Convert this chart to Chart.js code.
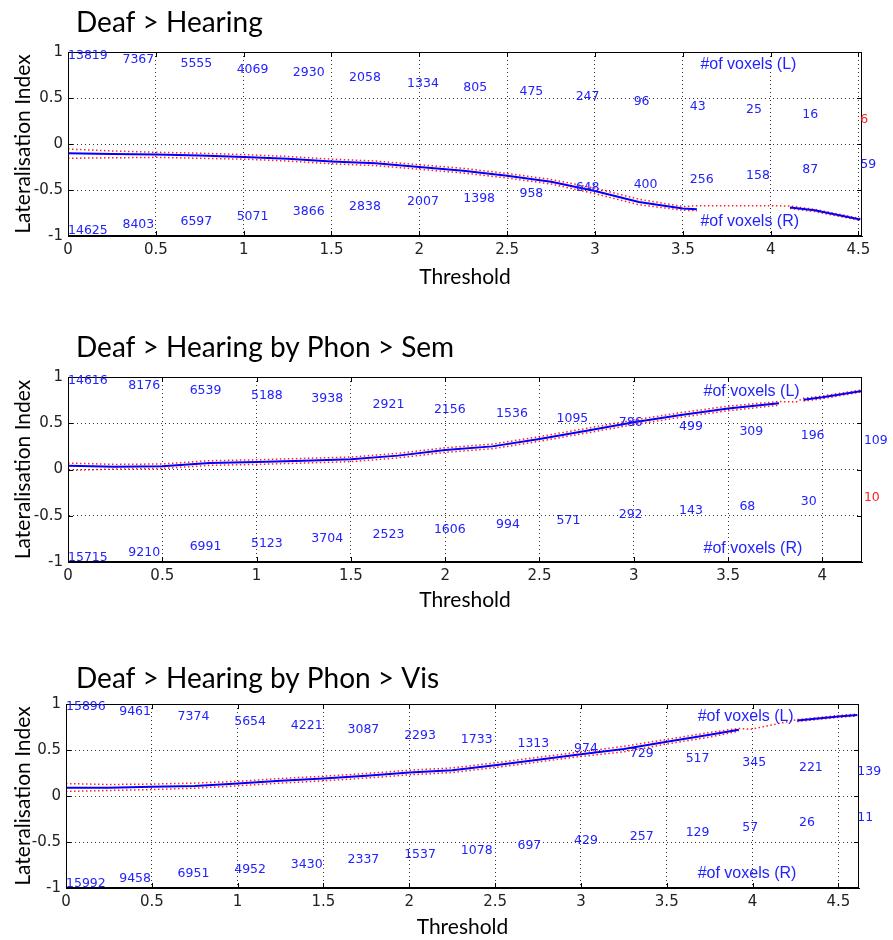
<!DOCTYPE html>
<html>
<head>
<meta charset="utf-8">
<script src="https://cdn.jsdelivr.net/npm/chart.js@4.4.1/dist/chart.umd.min.js"></script>
<style>
  body { margin: 0; background: #fff; }
  #wrap { position: relative; width: 893px; height: 940px; }
  canvas { position: absolute; left: 0; }
</style>
</head>
<body>
<div id="wrap">
  <canvas id="panel1" width="893" height="300" style="top:0px"></canvas>
  <canvas id="panel2" width="893" height="305" style="top:320px"></canvas>
  <canvas id="panel3" width="893" height="290" style="top:650px"></canvas>
</div>
<script>
// ---- Deaf > Hearing ----
var thr1   = [0, 0.25, 0.5, 0.75, 1.0, 1.25, 1.5, 1.75, 2.0, 2.25, 2.5, 2.75, 3.0, 3.25, 3.5, 3.58, 3.8, 4.0, 4.11, 4.25, 4.51];
var li1    = [-0.10, -0.11, -0.115, -0.125, -0.14, -0.16, -0.19, -0.21, -0.25, -0.29, -0.345, -0.41, -0.51, -0.63, -0.70, -0.71, null, null, -0.69, -0.72, -0.82];
var hi1    = [-0.055, -0.075, -0.09, -0.10, -0.115, -0.135, -0.165, -0.185, -0.225, -0.265, -0.32, -0.385, -0.48, -0.60, -0.68, -0.67, -0.67, -0.67, -0.675, -0.71, -0.81];
var lo1    = [-0.155, -0.15, -0.145, -0.155, -0.165, -0.185, -0.215, -0.235, -0.275, -0.315, -0.37, -0.435, -0.54, -0.66, -0.72, -0.725, null, null, -0.70, -0.735, -0.83];
var lblX1  = [0, 0.31, 0.64, 0.96, 1.28, 1.60, 1.93, 2.25, 2.57, 2.89, 3.22, 3.54, 3.86, 4.18, 4.51];
var voxL1  = [13819, 7367, 5555, 4069, 2930, 2058, 1334, 805, 475, 247, 96, 43, 25, 16, 6];
var voxLy1 = [0.96, 0.92, 0.87, 0.81, 0.77, 0.72, 0.66, 0.61, 0.57, 0.51, 0.46, 0.41, 0.37, 0.32, 0.26];
var voxR1  = [14625, 8403, 6597, 5071, 3866, 2838, 2007, 1398, 958, 648, 400, 256, 158, 87, 59];
var voxRy1 = [-0.94, -0.88, -0.84, -0.79, -0.74, -0.68, -0.63, -0.59, -0.54, -0.48, -0.44, -0.39, -0.34, -0.28, -0.23];

// ---- Deaf > Hearing by Phon > Sem ----
var thr2   = [0, 0.25, 0.5, 0.75, 1.0, 1.25, 1.5, 1.75, 2.0, 2.25, 2.5, 2.75, 3.0, 3.25, 3.5, 3.77, 3.86, 3.90, 4.0, 4.21];
var li2    = [0.04, 0.03, 0.035, 0.07, 0.08, 0.095, 0.11, 0.15, 0.21, 0.25, 0.33, 0.42, 0.51, 0.59, 0.66, 0.715, null, 0.755, 0.78, 0.85];
var hi2    = [0.07, 0.055, 0.06, 0.095, 0.105, 0.12, 0.135, 0.175, 0.235, 0.275, 0.355, 0.445, 0.535, 0.615, 0.685, 0.735, 0.73, 0.77, 0.795, 0.86];
var lo2    = [-0.01, 0.005, 0.01, 0.045, 0.055, 0.07, 0.085, 0.125, 0.185, 0.225, 0.305, 0.395, 0.485, 0.565, 0.635, 0.695, null, 0.74, 0.765, 0.84];
var lblX2  = [0, 0.32, 0.645, 0.97, 1.29, 1.615, 1.94, 2.27, 2.59, 2.92, 3.24, 3.56, 3.885, 4.22];
var voxL2  = [14616, 8176, 6539, 5188, 3938, 2921, 2156, 1536, 1095, 786, 499, 309, 196, 109];
var voxLy2 = [0.96, 0.91, 0.856, 0.80, 0.76, 0.70, 0.65, 0.60, 0.55, 0.51, 0.46, 0.41, 0.36, 0.31];
var voxR2  = [15715, 9210, 6991, 5123, 3704, 2523, 1606, 994, 571, 292, 143, 68, 30, 10];
var voxRy2 = [-0.95, -0.90, -0.84, -0.80, -0.75, -0.70, -0.65, -0.60, -0.55, -0.49, -0.45, -0.40, -0.35, -0.30];

// ---- Deaf > Hearing by Phon > Vis ----
var thr3   = [0, 0.25, 0.5, 0.75, 1.0, 1.25, 1.5, 1.75, 2.0, 2.25, 2.5, 2.75, 3.0, 3.25, 3.5, 3.75, 3.92, 3.99, 4.26, 4.5, 4.61];
var li3    = [0.09, 0.09, 0.10, 0.11, 0.135, 0.165, 0.19, 0.22, 0.255, 0.28, 0.335, 0.395, 0.455, 0.51, 0.59, 0.665, 0.72, null, 0.82, 0.865, 0.88];
var hi3    = [0.135, 0.125, 0.13, 0.14, 0.16, 0.19, 0.215, 0.245, 0.28, 0.305, 0.36, 0.42, 0.48, 0.54, 0.615, 0.69, 0.735, 0.725, 0.83, 0.875, 0.89];
var lo3    = [0.05, 0.06, 0.07, 0.085, 0.11, 0.14, 0.165, 0.195, 0.23, 0.255, 0.31, 0.37, 0.43, 0.48, 0.565, 0.64, 0.705, null, 0.81, 0.855, 0.87];
var lblX3  = [0, 0.31, 0.65, 0.98, 1.31, 1.64, 1.97, 2.30, 2.63, 2.96, 3.285, 3.61, 3.94, 4.27, 4.61];
var voxL3  = [15896, 9461, 7374, 5654, 4221, 3087, 2293, 1733, 1313, 974, 729, 517, 345, 221, 139];
var voxLy3 = [0.97, 0.916, 0.86, 0.81, 0.76, 0.716, 0.66, 0.61, 0.565, 0.51, 0.46, 0.41, 0.365, 0.31, 0.26];
var voxR3  = [15992, 9458, 6951, 4952, 3430, 2337, 1537, 1078, 697, 429, 257, 129, 57, 26, 11];
var voxRy3 = [-0.95, -0.90, -0.84, -0.80, -0.75, -0.69, -0.64, -0.60, -0.54, -0.49, -0.44, -0.40, -0.34, -0.29, -0.24];

var BLUE = '#0000ff';
var TXTBLUE = '#2222ff';
var RED = '#ff2020';

function toPoints(xs, ys) {
    return xs.map(function (x, i) { return { x: x, y: ys[i] }; });
}

// draws box, inward ticks, voxel counts and the panel heading
function makeDecor(p) {
    return {
        id: 'decor',
        afterDatasetsDraw: function (chart) {
            var ctx = chart.ctx;
            var a = chart.chartArea;
            var xs = chart.scales.x, ys = chart.scales.y;
            ctx.save();

            ctx.strokeStyle = '#000';
            ctx.lineWidth = 1;
            ctx.strokeRect(Math.round(a.left) + 0.5, Math.round(a.top) + 0.5,
                Math.round(a.right - a.left) - 1, Math.round(a.bottom - a.top) - 1);
            ctx.beginPath();
            xs.ticks.forEach(function (t) {
                var px = Math.round(xs.getPixelForValue(t.value)) + 0.5;
                ctx.moveTo(px, a.top); ctx.lineTo(px, a.top + 5);
                ctx.moveTo(px, a.bottom); ctx.lineTo(px, a.bottom - 5);
            });
            ys.ticks.forEach(function (t) {
                var py = Math.round(ys.getPixelForValue(t.value)) + 0.5;
                ctx.moveTo(a.left, py); ctx.lineTo(a.left + 5, py);
                ctx.moveTo(a.right, py); ctx.lineTo(a.right - 5, py);
            });
            ctx.stroke();

            ctx.textAlign = 'left';
            ctx.textBaseline = 'middle';
            ctx.font = '12.5px "DejaVu Sans"';
            var last = p.lblX.length - 1;
            p.lblX.forEach(function (x, i) {
                var px = xs.getPixelForValue(x);
                ctx.fillStyle = (p.redTop && i === last) ? RED : TXTBLUE;
                ctx.fillText(String(p.voxL[i]), px, ys.getPixelForValue(p.voxLy[i]));
                ctx.fillStyle = (p.redBottom && i === last) ? RED : TXTBLUE;
                ctx.fillText(String(p.voxR[i]), px, ys.getPixelForValue(p.voxRy[i]));
            });

            ctx.font = '16px "Liberation Sans"';
            ctx.fillStyle = TXTBLUE;
            ctx.fillText('#of voxels (L)', xs.getPixelForValue(p.capX), ys.getPixelForValue(p.capYL));
            ctx.fillText('#of voxels (R)', xs.getPixelForValue(p.capX), ys.getPixelForValue(p.capYR));

            ctx.font = '28px Lato';
            ctx.fillStyle = '#000';
            ctx.textBaseline = 'alphabetic';
            ctx.fillText(p.title, p.titleX, p.titleBase);
            ctx.restore();
        }
    };
}

function buildPanel(id, p) {
    var ctx = document.getElementById(id).getContext('2d');
    return new Chart(ctx, {
        type: 'line',
        data: {
            datasets: [{
                data: toPoints(p.thr, p.li),
                borderColor: BLUE,
                borderWidth: 2,
                pointRadius: 0,
                spanGaps: false
            }, {
                data: toPoints(p.thr, p.hi),
                borderColor: RED,
                borderWidth: 1.5,
                borderDash: [1.5, 2.5],
                pointRadius: 0,
                spanGaps: false
            }, {
                data: toPoints(p.thr, p.lo),
                borderColor: RED,
                borderWidth: 1.5,
                borderDash: [1.5, 2.5],
                pointRadius: 0,
                spanGaps: false
            }]
        },
        options: {
            responsive: false,
            animation: false,
            devicePixelRatio: 1,
            layout: { padding: { top: p.padTop, right: p.padRight, left: 0, bottom: 0 } },
            plugins: { legend: { display: false }, tooltip: { enabled: false } },
            scales: {
                x: {
                    type: 'linear',
                    min: 0,
                    max: p.xMax,
                    afterFit: function (s) { s.height = p.xHeight; },
                    ticks: {
                        stepSize: 0.5,
                        includeBounds: false,
                        autoSkip: false,
                        maxRotation: 0,
                        padding: 5,
                        color: '#222',
                        font: { family: 'DejaVu Sans', size: 15 },
                        callback: function (v) { return String(v); }
                    },
                    grid: { color: '#333', lineWidth: 1, drawTicks: false },
                    border: { display: true, color: '#000', dash: [1, 3] },
                    title: {
                        display: true, text: 'Threshold', color: '#000',
                        font: { family: 'Lato', size: 21 },
                        padding: { top: 0, bottom: p.xTitlePad }
                    }
                },
                y: {
                    min: -1,
                    max: 1,
                    afterFit: function (s) { s.width = p.yWidth; },
                    ticks: {
                        stepSize: 0.5,
                        padding: 5,
                        color: '#222',
                        font: { family: 'DejaVu Sans', size: 15 },
                        callback: function (v) { return String(v); }
                    },
                    grid: { color: '#333', lineWidth: 1, drawTicks: false },
                    border: { display: true, color: '#000', dash: [1, 3] },
                    title: {
                        display: true, text: 'Lateralisation Index', color: '#000',
                        font: { family: 'Lato', size: 21 },
                        padding: { top: 11, bottom: 0 }
                    }
                }
            }
        },
        plugins: [makeDecor(p)]
    });
}

buildPanel('panel1', {
    thr: thr1, li: li1, hi: hi1, lo: lo1,
    lblX: lblX1, voxL: voxL1, voxLy: voxLy1, voxR: voxR1, voxRy: voxRy1,
    redTop: true, redBottom: false,
    capX: 3.60, capYL: 0.86, capYR: -0.84,
    title: 'Deaf > Hearing', titleX: 76, titleBase: 32,
    padTop: 52, padRight: 31, yWidth: 68, xHeight: 64, xTitlePad: 10, xMax: 4.52
});

buildPanel('panel2', {
    thr: thr2, li: li2, hi: hi2, lo: lo2,
    lblX: lblX2, voxL: voxL2, voxLy: voxLy2, voxR: voxR2, voxRy: voxRy2,
    redTop: false, redBottom: true,
    capX: 3.37, capYL: 0.845, capYR: -0.85,
    title: 'Deaf > Hearing by Phon > Sem', titleX: 76, titleBase: 37,
    padTop: 57, padRight: 31, yWidth: 68, xHeight: 63, xTitlePad: 12, xMax: 4.21
});

buildPanel('panel3', {
    thr: thr3, li: li3, hi: hi3, lo: lo3,
    lblX: lblX3, voxL: voxL3, voxLy: voxLy3, voxR: voxR3, voxRy: voxRy3,
    redTop: false, redBottom: false,
    capX: 3.68, capYL: 0.86, capYR: -0.84,
    title: 'Deaf > Hearing by Phon > Vis', titleX: 76, titleBase: 38,
    padTop: 54, padRight: 34, yWidth: 66, xHeight: 52, xTitlePad: 0, xMax: 4.62
});
</script>
</body>
</html>
